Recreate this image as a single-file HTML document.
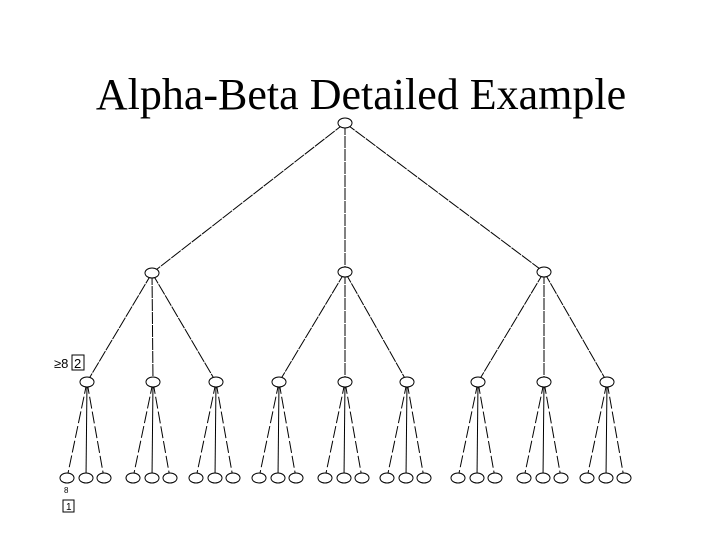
<!DOCTYPE html>
<html><head><style>
body{margin:0;background:#fff;width:720px;height:540px;overflow:hidden;position:relative}
.t{position:absolute;left:0;width:722px;top:69px;text-align:center;font-family:"Liberation Serif",serif;font-size:44px;color:#000}
svg{position:absolute;left:0;top:0}
</style></head><body>
<div class="t">Alpha-Beta Detailed Example</div>
<svg width="720" height="540" stroke="#000" fill="#fff" stroke-width="1">
<g id="lines"></g>
<script>
var ns="http://www.w3.org/2000/svg",s=document.currentScript.parentNode;
function el(n,a){var e=document.createElementNS(ns,n);for(var k in a)e.setAttribute(k,a[k]);s.appendChild(e);return e}
var root=[345,123],l1=[[152,273],[345,272],[544,272]];
var l2x=[87,153,216,279,345,407,478,544,607],ly2=382,ly3=478;
var nodes=[];
l1.forEach(function(p){el('line',{x1:root[0],y1:root[1],x2:p[0],y2:p[1],'stroke-dasharray':'12,1'})});
l2x.forEach(function(x,i){var p=l1[Math.floor(i/3)];el('line',{x1:p[0],y1:p[1],x2:x,y2:ly2,'stroke-dasharray':'12,1'});
 [-20,-1,17].forEach(function(d,j){el('line',{x1:x,y1:ly2,x2:x+d,y2:ly3,'stroke-dasharray':j==1?'':'12,3'});nodes.push([x+d,ly3,7,5])});
 nodes.push([x,ly2,7,5]);});
l1.forEach(function(p){nodes.push([p[0],p[1],7,5])});nodes.push([root[0],root[1],7,5]);
nodes.forEach(function(n){el('ellipse',{cx:n[0],cy:n[1],rx:n[2],ry:n[3]})});
</script>
<text x="54" y="368" font-family="Liberation Sans,sans-serif" font-size="13" fill="#000" stroke="none">≥8</text>
<rect x="72" y="355" width="12" height="15" fill="none"/>
<text x="74" y="368" font-family="Liberation Sans,sans-serif" font-size="13" fill="#000" stroke="none">2</text>
<text x="64" y="493" font-family="Liberation Sans,sans-serif" font-size="8" fill="#000" stroke="none">8</text>
<rect x="63" y="500" width="11" height="12" fill="none"/>
<text x="66" y="510" font-family="Liberation Sans,sans-serif" font-size="10" fill="#000" stroke="none">1</text>
</svg>
</body></html>
